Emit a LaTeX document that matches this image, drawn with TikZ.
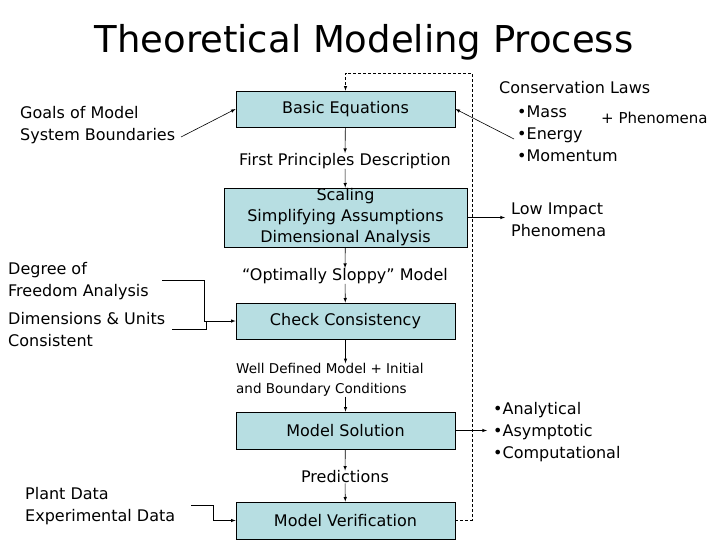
\documentclass[tikz,border=0pt]{standalone}
\usepackage{fontspec}
\setmainfont{DejaVu Sans}
\definecolor{boxfill}{RGB}{183,222,226}
\begin{document}
\begin{tikzpicture}[x=1pt,y=-1pt,
  proc/.style={draw,fill=boxfill,line width=0.8pt,inner sep=0pt,font=\fontsize{16}{19}\selectfont},
  lbl/.style={inner sep=0pt,font=\fontsize{16}{22}\selectfont},
  arr/.style={-latex,line width=0.6pt},
  fb/.style={dashed,line width=0.6pt,dash pattern=on 3pt off 2pt}]
\useasboundingbox (0,0) rectangle (728,546);
\node (title) at (364,42) {\fontsize{37}{44}\selectfont Theoretical Modeling Process};
\node[proc,minimum width=219,minimum height=36] (be) at (345.5,109) {Basic Equations};
\node[proc,minimum width=243,minimum height=59,align=center,font=\fontsize{16}{21}\selectfont] (sc) at (345.5,217.5) {Scaling\\Simplifying Assumptions\\Dimensional Analysis};
\node[proc,minimum width=219,minimum height=36] (cc) at (345.5,321) {Check Consistency};
\node[proc,minimum width=219,minimum height=37] (ms) at (345.5,430.5) {Model Solution};
\node[proc,minimum width=219,minimum height=37] (mv) at (345.5,520.5) {Model Verification};
\node[lbl] (fp) at (345,161) {First Principles Description};
\node[lbl] (os) at (345,276) {“Optimally Sloppy” Model};
\node[lbl,anchor=west,align=left,font=\fontsize{13.5}{20}\selectfont] (wd) at (236,380) {Well Defined Model + Initial\\and Boundary Conditions};
\node[lbl] (pr) at (345,477) {Predictions};
\draw[arr] (be) -- (fp);
\draw[arr] (fp) -- (sc);
\draw[arr] (sc) -- (os);
\draw[arr] (os) -- (cc);
\draw[arr] (cc) -- (cc|-wd.north);
\draw[arr] (cc|-wd.south) -- (ms);
\draw[arr] (ms) -- (pr);
\draw[arr] (pr) -- (mv);
\coordinate (d1) at (472,520.5);
\coordinate (d2) at (472,73);
\coordinate (d3) at (345.5,73);
\draw[fb,-latex] (mv.east) -- (d1) -- (d2) -- (d3) -- (be.north);
\node[lbl,anchor=west,align=left] (goals) at (20,125) {Goals of Model\\System Boundaries};
\coordinate (g1) at (181,137);
\draw[arr] (g1) -- (be.west);
\node[lbl,anchor=west] (cl) at (499,88) {Conservation Laws};
\node[lbl,anchor=west,align=left] (mem) at (517,134) {•Mass\\•Energy\\•Momentum};
\node[lbl,anchor=west,font=\fontsize{15}{20}\selectfont] (ph) at (601,118) {+ Phenomena};
\coordinate (c1) at (514,139);
\draw[arr] (c1) -- (be.east);
\node[lbl,anchor=west,align=left] (li) at (511,220) {Low Impact\\Phenomena};
\draw[arr] (sc.east) -- (505,217.5);
\node[lbl,anchor=west,align=left] (dof) at (8,281) {Degree of\\Freedom Analysis};
\node[lbl,anchor=west,align=left] (du) at (8,330) {Dimensions \& Units\\Consistent};
\draw[line width=0.6pt] (162,280) -- (204,280) -- (204,321);
\draw[line width=0.6pt] (172,329) -- (206,329) -- (206,321);
\draw[arr] (204,321) -- (cc.west);
\node[lbl,anchor=west,align=left] (an) at (493,432) {•Analytical\\•Asymptotic\\•Computational};
\draw[arr] (ms.east) -- (487,430.5);
\node[lbl,anchor=west,align=left] (pd) at (25,506) {Plant Data\\Experimental Data};
\draw[line width=0.6pt] (191,505) -- (213,505) -- (213,520.5);
\draw[arr] (213,520.5) -- (mv.west);
\end{tikzpicture}
\end{document}
